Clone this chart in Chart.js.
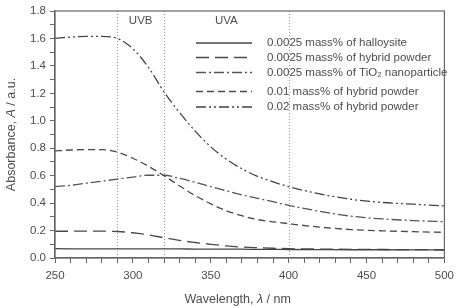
<!DOCTYPE html>
<html>
<head>
<meta charset="utf-8">
<script src="https://cdn.jsdelivr.net/npm/chart.js@4"></script>
<style>
  html, body { margin: 0; padding: 0; background: #fff; }
</style>
</head>
<body>
<canvas id="absChart" width="460" height="308"></canvas>
<script>
// wavelength grid (nm)
const wavelengths = [250, 260, 270, 280, 290, 300, 310, 320, 330, 340, 350, 360, 370, 380, 390, 400, 420, 440, 460, 480, 500];

// absorbance values
const halloysite0025 = [0.068, 0.067, 0.066, 0.066, 0.066, 0.066, 0.066, 0.066, 0.066, 0.065, 0.065, 0.064, 0.064, 0.063, 0.063, 0.062, 0.061, 0.060, 0.060, 0.059, 0.058];
const hybrid0025 = [0.195, 0.195, 0.196, 0.196, 0.193, 0.184, 0.168, 0.148, 0.128, 0.113, 0.100, 0.088, 0.080, 0.075, 0.071, 0.068, 0.065, 0.063, 0.062, 0.061, 0.060];
const tio20025 = [0.52, 0.53, 0.545, 0.56, 0.575, 0.59, 0.603, 0.603, 0.58, 0.552, 0.52, 0.49, 0.46, 0.435, 0.41, 0.384, 0.34, 0.305, 0.285, 0.273, 0.265];
const hybrid01 = [0.78, 0.787, 0.79, 0.79, 0.772, 0.727, 0.668, 0.60, 0.525, 0.455, 0.395, 0.345, 0.308, 0.28, 0.264, 0.25, 0.225, 0.207, 0.198, 0.192, 0.187];
const hybrid02 = [1.60, 1.61, 1.615, 1.615, 1.60, 1.525, 1.39, 1.21, 1.06, 0.925, 0.81, 0.72, 0.65, 0.595, 0.555, 0.52, 0.467, 0.428, 0.405, 0.392, 0.38];

const seriesLabels = [
    "0.0025 mass% of halloysite",
    "0.0025 mass% of hybrid powder",
    "0.0025 mass% of TiO\u2082 nanoparticle",
    "0.01 mass% of hybrid powder",
    "0.02 mass% of hybrid powder"
];

// region markers (nm) and their names
const regionLines = [290, 320, 400];
const regionNames = [["UVB", 290, 320], ["UVA", 320, 400]];

const FONT = "'Liberation Sans', Arial, sans-serif";
const TXT = "#4d4d4d";

function toPoints(ys) {
    return wavelengths.map((w, i) => ({ x: w, y: ys[i] }));
}

function makeSet(label, ys, dash, color) {
    return {
        label: label,
        data: toPoints(ys),
        borderColor: color,
        borderWidth: 1.3,
        borderDash: dash,
        pointRadius: 0,
        fill: false,
        cubicInterpolationMode: "monotone"
    };
}

// draw a string made of pieces with their own fonts, centred on x
function drawPieces(ctx, pieces, x, y) {
    let total = 0;
    pieces.forEach(p => { ctx.font = p.font; total += ctx.measureText(p.text).width; });
    let cx = x - total / 2;
    ctx.textAlign = "left";
    ctx.textBaseline = "middle";
    pieces.forEach(p => {
        ctx.font = p.font;
        ctx.fillText(p.text, cx, y);
        cx += ctx.measureText(p.text).width;
    });
}

const decorations = {
    id: "decorations",
    beforeDatasetsDraw(chart) {
        const ctx = chart.ctx;
        const area = chart.chartArea;
        const xs = chart.scales.x;
        ctx.save();
        // dotted region lines
        ctx.strokeStyle = "#999";
        ctx.lineWidth = 1;
        ctx.setLineDash([1, 2]);
        regionLines.forEach(w => {
            const px = Math.round(xs.getPixelForValue(w)) + 0.5;
            ctx.beginPath();
            ctx.moveTo(px, area.top);
            ctx.lineTo(px, area.bottom);
            ctx.stroke();
        });
        ctx.setLineDash([]);
        ctx.fillStyle = TXT;
        ctx.font = "11.5px " + FONT;
        ctx.textAlign = "center";
        ctx.textBaseline = "middle";
        regionNames.forEach(r => {
            const px = (xs.getPixelForValue(r[1]) + xs.getPixelForValue(r[2])) / 2;
            ctx.fillText(r[0], px, area.top + 10);
        });
        ctx.restore();
    },
    afterDraw(chart) {
        const ctx = chart.ctx;
        const area = chart.chartArea;
        ctx.save();
        // frame
        ctx.strokeStyle = "#666";
        ctx.lineWidth = 1.2;
        ctx.strokeRect(area.left, area.top, area.right - area.left, area.bottom - area.top);

        // legend
        const rowY = [43, 57.5, 72.5, 91.5, 107];
        const lineX0 = 196, lineX1 = 252, textX = 267;
        chart.data.datasets.forEach((ds, i) => {
            ctx.strokeStyle = ds.borderColor;
            ctx.lineWidth = ds.borderWidth;
            ctx.setLineDash(ds.borderDash);
            ctx.beginPath();
            ctx.moveTo(lineX0, rowY[i]);
            ctx.lineTo(lineX1, rowY[i]);
            ctx.stroke();
            ctx.setLineDash([]);
            ctx.fillStyle = TXT;
            ctx.font = "11.5px " + FONT;
            ctx.textAlign = "left";
            ctx.textBaseline = "middle";
            ctx.fillText(ds.label, textX, rowY[i]);
        });

        // axis titles
        ctx.fillStyle = TXT;
        const norm = "12.5px " + FONT;
        const ital = "italic 12.5px " + FONT;
        drawPieces(ctx, [
            { text: "Wavelength, ", font: norm },
            { text: "\u03bb", font: ital },
            { text: " / nm", font: norm }
        ], (area.left + area.right) / 2 - 12, 300);

        ctx.translate(12, (area.top + area.bottom) / 2);
        ctx.rotate(-Math.PI / 2);
        drawPieces(ctx, [
            { text: "Absorbance, ", font: norm },
            { text: "A", font: ital },
            { text: " / a.u.", font: norm }
        ], 0, 0);
        ctx.restore();
    }
};

const ctx = document.getElementById("absChart").getContext("2d");

const chart = new Chart(ctx, {
    type: "line",
    data: {
        datasets: [
            makeSet(seriesLabels[0], halloysite0025, [], "#444"),
            makeSet(seriesLabels[1], hybrid0025, [13, 6], "#4a4a4a"),
            makeSet(seriesLabels[2], tio20025, [10, 3, 2, 3], "#555"),
            makeSet(seriesLabels[3], hybrid01, [7, 4], "#4a4a4a"),
            makeSet(seriesLabels[4], hybrid02, [10, 3, 2, 3, 2, 3], "#444")
        ]
    },
    options: {
        responsive: false,
        animation: false,
        layout: { padding: { top: 11, right: 9, left: 0, bottom: 0 } },
        plugins: {
            legend: { display: false },
            tooltip: { enabled: false }
        },
        scales: {
            x: {
                type: "linear",
                min: 250,
                max: 500,
                afterFit: s => { s.height = 50; },
                border: { display: true, color: "#666", width: 1.2 },
                grid: { drawOnChartArea: false, drawTicks: true, tickLength: 5, color: "#666" },
                ticks: {
                    stepSize: 10,
                    autoSkip: false,
                    maxRotation: 0,
                    padding: 6,
                    color: TXT,
                    font: { family: FONT, size: 11.5 },
                    callback: v => (v % 50 === 0 ? String(v) : "")
                }
            },
            y: {
                min: 0,
                max: 1.8,
                afterFit: s => { s.width = 55; },
                border: { display: true, color: "#666", width: 1.2 },
                grid: { drawOnChartArea: false, drawTicks: true, tickLength: 5, color: "#666" },
                ticks: {
                    stepSize: 0.1,
                    autoSkip: false,
                    padding: 4,
                    color: TXT,
                    font: { family: FONT, size: 11.5 },
                    callback: v => {
                        const k = Math.round(v * 10);
                        return k % 2 === 0 ? (k / 10).toFixed(1) : "";
                    }
                }
            }
        }
    },
    plugins: [decorations]
});
</script>
</body>
</html>
